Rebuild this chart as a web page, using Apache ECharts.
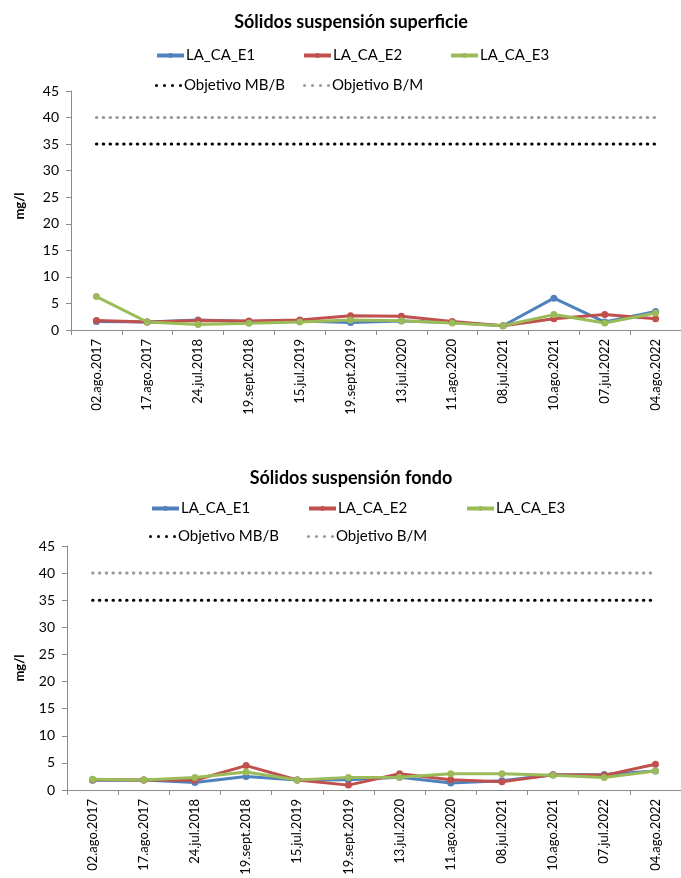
<!DOCTYPE html>
<html>
<head>
<meta charset="utf-8">
<script src="https://cdn.jsdelivr.net/npm/echarts@6/dist/echarts.min.js"></script>
<style>
  html, body { margin: 0; padding: 0; background: #fff; }
  #chart { width: 681px; height: 878px; }
</style>
</head>
<body>
<div id="chart"></div>
<script>
// Sampling dates (shared by both panels)
const fechas = ['02.ago.2017', '17.ago.2017', '24.jul.2018', '19.sept.2018', '15.jul.2019', '19.sept.2019',
  '13.jul.2020', '11.ago.2020', '08.jul.2021', '10.ago.2021', '07.jul.2022', '04.ago.2022'];

// Suspended solids at the surface (mg/l)
const supE1 = [1.6, 1.5, 1.9, 1.6, 1.7, 1.4, 1.7, 1.4, 0.8, 6.0, 1.5, 3.5];
const supE2 = [1.8, 1.5, 1.8, 1.7, 1.9, 2.7, 2.6, 1.6, 0.8, 2.1, 2.9, 2.1];
const supE3 = [6.3, 1.5, 1.05, 1.25, 1.5, 1.9, 1.75, 1.3, 0.8, 2.9, 1.3, 3.2];

// Suspended solids at the bottom (mg/l)
const fonE1 = [1.8, 1.85, 1.4, 2.5, 1.85, 1.9, 2.35, 1.3, 1.7, 2.8, 2.85, 3.5];
const fonE2 = [1.9, 1.85, 1.8, 4.5, 1.85, 0.9, 3.0, 1.9, 1.5, 2.8, 2.7, 4.75];
const fonE3 = [2.0, 1.85, 2.3, 3.3, 1.85, 2.3, 2.35, 3.0, 3.0, 2.7, 2.3, 3.5];

// Quality objectives (mg/l)
const objMBB = [35, 35, 35, 35, 35, 35, 35, 35, 35, 35, 35, 35];
const objBM = [40, 40, 40, 40, 40, 40, 40, 40, 40, 40, 40, 40];

const yTicks = { min: 0, max: 45, interval: 5 };

const FONT = 'Lato, "Open Sans", sans-serif';
const AXIS_COLOR = '#8c8c8c';
const COLORS = { E1: '#4F81BD', E2: '#C0504D', E3: '#9BBB59' };

// Four round dots, used as the legend swatch of the dotted objective lines
const DOTS_ICON = 'path://M0,1.5a1.5,1.5 0 1,0 3,0a1.5,1.5 0 1,0 -3,0z' +
  'M8,1.5a1.5,1.5 0 1,0 3,0a1.5,1.5 0 1,0 -3,0z' +
  'M16,1.5a1.5,1.5 0 1,0 3,0a1.5,1.5 0 1,0 -3,0z' +
  'M24,1.5a1.5,1.5 0 1,0 3,0a1.5,1.5 0 1,0 -3,0z';

function stationSeries(name, color, data, idx) {
  return {
    name, type: 'line', data, xAxisIndex: idx, yAxisIndex: idx,
    symbol: 'circle', symbolSize: 7, color,
    lineStyle: { width: 3, color },
    itemStyle: { color },
    animation: false
  };
}
function objectiveSeries(name, color, data, idx) {
  return {
    name, type: 'line', data, xAxisIndex: idx, yAxisIndex: idx,
    symbol: 'none', color,
    itemStyle: { color },
    lineStyle: { width: 3, color, type: [0.5, 6.3], cap: 'round' },
    animation: false
  };
}

function xAxis(idx) {
  return {
    type: 'category', data: fechas, gridIndex: idx, boundaryGap: true,
    axisLine: { lineStyle: { color: AXIS_COLOR, width: 1 } },
    axisTick: { show: true, length: 5, lineStyle: { color: AXIS_COLOR } },
    axisLabel: { rotate: 90, color: '#000', fontFamily: FONT, fontSize: 13, margin: 9, interval: 0 },
    splitLine: { show: false }
  };
}
function yAxis(idx) {
  return {
    type: 'value', gridIndex: idx, min: yTicks.min, max: yTicks.max, interval: yTicks.interval,
    axisLine: { show: true, lineStyle: { color: AXIS_COLOR, width: 1 } },
    axisTick: { show: true, length: 5, lineStyle: { color: AXIS_COLOR } },
    axisLabel: { color: '#000', fontFamily: FONT, fontSize: 14, margin: 12 },
    splitLine: { show: false }
  };
}

function legendItem(name, left, top) {
  return {
    data: [name], left, top, padding: 0, itemWidth: 27, itemHeight: 6, itemGap: 0,
    selectedMode: false,
    lineStyle: { width: 4 },
    textStyle: { fontFamily: FONT, fontSize: 15, color: '#000', padding: [0, 0, 0, -3] }
  };
}
function legendDots(name, left, top) {
  return {
    data: [{ name, icon: DOTS_ICON }], left, top, padding: 0, itemWidth: 27, itemHeight: 3, itemGap: 0,
    selectedMode: false,
    textStyle: { fontFamily: FONT, fontSize: 15, color: '#000', padding: [0, 0, 0, -3] }
  };
}

function titleText(text, x, y) {
  return {
    type: 'text', x, y,
    style: { text, font: 'bold 18px ' + FONT, fill: '#000', align: 'center', verticalAlign: 'middle' }
  };
}
function unitText(y) {
  return {
    type: 'text', x: 20, y, rotation: Math.PI / 2,
    style: { text: 'mg/l', font: 'bold 13px ' + FONT, fill: '#000', align: 'center', verticalAlign: 'middle' }
  };
}

const chart = echarts.init(document.getElementById('chart'), null, { renderer: 'canvas' });
chart.setOption({
  backgroundColor: '#fff',
  animation: false,
  grid: [
    { left: 71, top: 91, width: 612, height: 239, containLabel: false },
    { left: 67, top: 546, width: 624, height: 244, containLabel: false }
  ],
  xAxis: [xAxis(0), xAxis(1)],
  yAxis: [yAxis(0), yAxis(1)],
  legend: [
    legendItem('LA_CA_E1', 155, 48),
    legendItem('LA_CA_E2', 302, 48),
    legendItem('LA_CA_E3', 449, 48),
    legendDots('Objetivo MB/B', 155, 78),
    legendDots('Objetivo B/M', 303, 78),
    legendItem('LA_CA_E1', 150, 501),
    legendItem('LA_CA_E2', 307, 501),
    legendItem('LA_CA_E3', 465, 501),
    legendDots('Objetivo MB/B', 149, 529),
    legendDots('Objetivo B/M', 307, 529)
  ],
  graphic: [
    titleText('Sólidos suspensión superficie', 351, 22),
    titleText('Sólidos suspensión fondo', 351, 478),
    unitText(206),
    unitText(668)
  ],
  series: [
    stationSeries('LA_CA_E1', COLORS.E1, supE1, 0),
    stationSeries('LA_CA_E2', COLORS.E2, supE2, 0),
    stationSeries('LA_CA_E3', COLORS.E3, supE3, 0),
    objectiveSeries('Objetivo MB/B', '#000000', objMBB, 0),
    objectiveSeries('Objetivo B/M', '#999999', objBM, 0),
    stationSeries('LA_CA_E1', COLORS.E1, fonE1, 1),
    stationSeries('LA_CA_E2', COLORS.E2, fonE2, 1),
    stationSeries('LA_CA_E3', COLORS.E3, fonE3, 1),
    objectiveSeries('Objetivo MB/B', '#000000', objMBB, 1),
    objectiveSeries('Objetivo B/M', '#999999', objBM, 1)
  ]
});
</script>
</body>
</html>
